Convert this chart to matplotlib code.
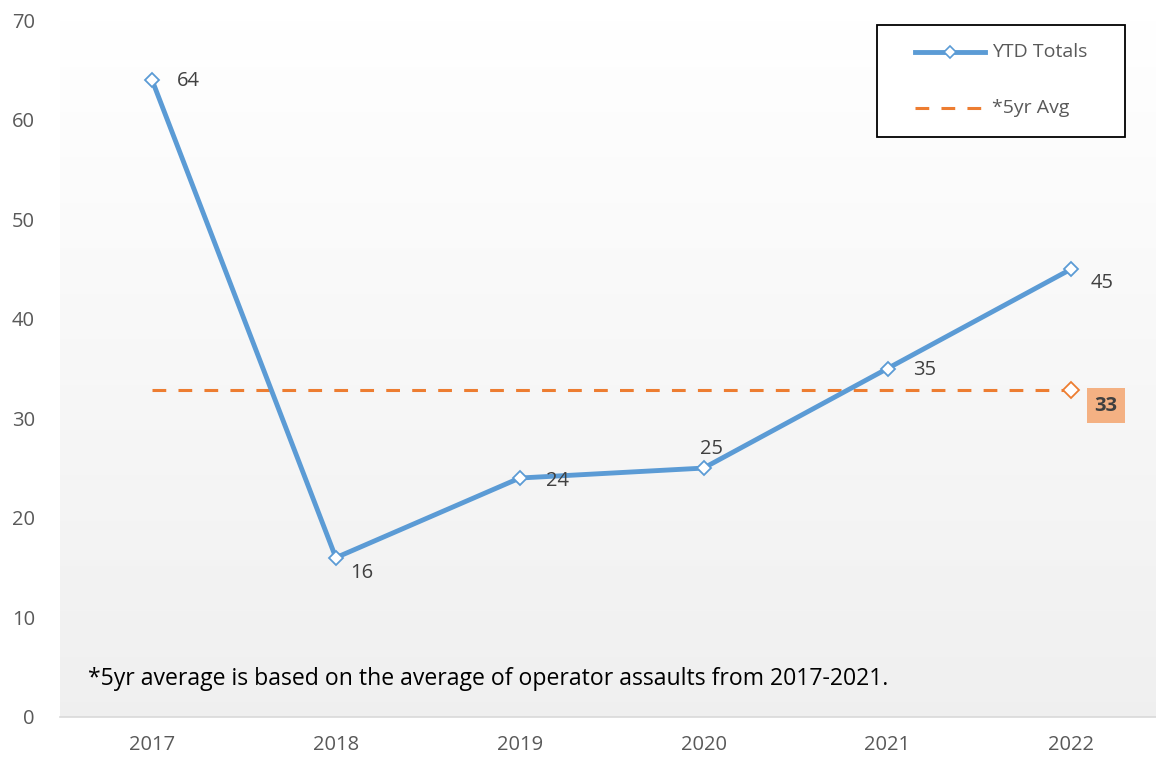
import numpy as np
import matplotlib
matplotlib.use("Agg")
import matplotlib.pyplot as plt
from matplotlib.lines import Line2D
from matplotlib.patches import Rectangle

years = ["2017", "2018", "2019", "2020", "2021", "2022"]
ytd_totals = [64, 16, 24, 25, 35, 45]
avg_5yr = 32.8
avg_label = "33"
# label offsets in points (dx, dy) for each YTD point
label_offsets = [(26, -1), (19, -11), (27, -2), (6, 14), (27, -1), (22, -10)]
footnote = "*5yr average is based on the average of operator assaults from 2017-2021."
legend_labels = ["YTD Totals", "*5yr Avg"]

BLUE = "#5B9BD5"
ORANGE = "#ED7D31"
GREY = "#595959"
W, H = 1156, 760

plt.rcParams["font.family"] = ["Open Sans", "DejaVu Sans"]

fig = plt.figure(figsize=(W / 100, H / 100), dpi=100)
ax = fig.add_axes([60 / W, 1 - 717 / H, 1 - 60 / W, (717 - 20) / H])

# ── background gradient (white top -> light grey bottom) ──
grad = np.linspace(1.0, 0.94, 256)[:, None]
ax.imshow(np.dstack([grad, grad, grad]), extent=[0, 1, 0, 1], transform=ax.transAxes,
          aspect="auto", zorder=0)

x = np.arange(len(years))
ax.plot(x, ytd_totals, color=BLUE, lw=3.5, marker="D", ms=7, mfc="white",
        mec=BLUE, mew=1.3, zorder=3, solid_capstyle="round")
avg_vals = [avg_5yr] * len(years)
ax.plot(x, avg_vals, color=ORANGE, lw=2.2, ls=(0, (4.5, 4)), zorder=2)
ax.plot(x[-1], avg_vals[-1], marker="D", ms=8, mfc="white", mec=ORANGE, mew=1.3,
        ls="none", zorder=3)

for xi, v, (dx, dy) in zip(x, ytd_totals, label_offsets):
    ax.annotate(str(v), (xi, v), xytext=(dx, dy), textcoords="offset points",
                ha="center", va="center", fontsize=14.5, color="#404040", zorder=4)

ax.annotate(avg_label, (x[-1], avg_5yr), xytext=(25, -11), textcoords="offset points",
            ha="center", va="center", fontsize=14.5, fontweight="bold", color="#404040",
            bbox=dict(boxstyle="square,pad=0.38", fc="#F4B183", ec="none"), zorder=4)

ax.text(0.026, 0.055, footnote, transform=ax.transAxes, fontsize=16.6, color="black",
        ha="left", va="center")

ax.set_xlim(-0.5, 5.46)
ax.set_ylim(0, 70)
ax.set_yticks(range(0, 71, 10))
ax.set_xticks(x)
ax.set_xticklabels(years)
ax.tick_params(axis="both", length=0, labelsize=14.5, colors=GREY)
ax.tick_params(axis="x", pad=13)
ax.tick_params(axis="y", pad=18)
for s in ["top", "right", "left"]:
    ax.spines[s].set_visible(False)
ax.spines["bottom"].set_color("#d9d9d9")
ax.spines["bottom"].set_linewidth(1.2)

# ── legend box (drawn in figure pixels to match the reference layout) ──
def fx(px):
    return px / W

def fy(py):
    return 1 - py / H

fig.add_artist(Rectangle((fx(877), fy(137)), fx(1125) - fx(877), fy(25) - fy(137),
                         transform=fig.transFigure, fc="white", ec="black", lw=1.3,
                         zorder=5))
fig.add_artist(Line2D([fx(915), fx(985)], [fy(52), fy(52)], transform=fig.transFigure,
                      color=BLUE, lw=3.5, zorder=6))
fig.add_artist(Line2D([fx(950)], [fy(52)], transform=fig.transFigure, marker="D", ms=6,
                      mfc="white", mec=BLUE, mew=1.2, ls="none", zorder=7))
fig.add_artist(Line2D([fx(915), fx(985)], [fy(108), fy(108)], transform=fig.transFigure,
                      color=ORANGE, lw=2.2, ls=(0, (4.5, 4)), zorder=6))
for py, lab in zip([52, 108], legend_labels):
    fig.text(fx(992), fy(py), lab, fontsize=14, color=GREY, ha="left", va="center",
             zorder=7)

fig.savefig("out.png", dpi=100)
